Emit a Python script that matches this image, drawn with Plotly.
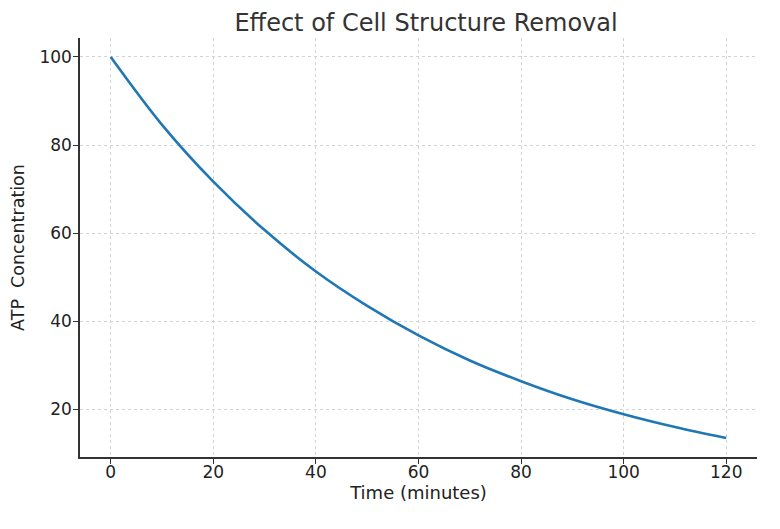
import plotly.graph_objects as go

# values
time_min = [0, 10, 20, 30, 40, 50, 60, 70, 80, 90, 100, 110, 120]
atp_conc = [100, 84.6, 71.7, 60.7, 51.3, 43.5, 36.8, 31.1, 26.4, 22.3, 18.9, 16.0, 13.5]

x_ticks = [0, 20, 40, 60, 80, 100, 120]
y_ticks = [20, 40, 60, 80, 100]

fig = go.Figure()
fig.add_trace(go.Scatter(
    x=time_min,
    y=atp_conc,
    mode='lines',
    line=dict(color='#1f77b4', width=2.6, shape='spline'),
    showlegend=False,
))

axis_style = dict(
    showline=True,
    linecolor='#333333',
    linewidth=1.5,
    ticks='outside',
    ticklen=5,
    tickcolor='#333333',
    showgrid=True,
    gridcolor='#d3d3d3',
    griddash='dot',
    gridwidth=1,
    zeroline=False,
    tickfont=dict(size=17, color='#222222'),
    mirror=False,
    automargin=False,
)

# page body adds 8px, so margins are pulled in by that much
fig.update_layout(
    width=780,
    height=529,
    paper_bgcolor='white',
    plot_bgcolor='white',
    font=dict(family='DejaVu Sans', color='#222222'),
    title=dict(text='Effect of Cell Structure Removal', x=0.536, xanchor='center',
               y=1 - 15 / 529, yanchor='middle', font=dict(size=24, color='#333333')),
    margin=dict(l=72, r=31, t=30, b=80),
)
fig.update_xaxes(range=[-6, 126], tickvals=x_ticks, ticklabelstandoff=-6,
                 title=dict(text='Time (minutes)', font=dict(size=18), standoff=4),
                 **axis_style)
fig.update_yaxes(range=[9.2, 104.3], tickvals=y_ticks, ticklabelstandoff=-2,
                 title=dict(text='ATP  Concentration', font=dict(size=17.5), standoff=10),
                 **axis_style)

fig.write_html("out.html")
